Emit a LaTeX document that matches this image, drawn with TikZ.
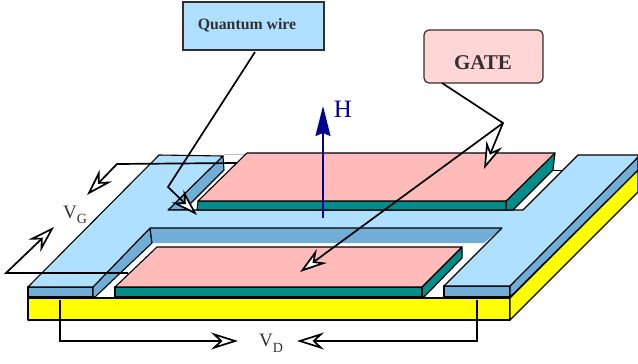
\documentclass[tikz,border=0pt]{standalone}
\usepackage{fontspec}
\setmainfont{Liberation Serif}
\usetikzlibrary{arrows.meta}
\definecolor{ltblue}{RGB}{176,224,255}
\definecolor{midblue}{RGB}{112,174,216}
\definecolor{tealc}{RGB}{0,140,136}
\definecolor{pinkc}{RGB}{255,186,186}
\definecolor{boxpink}{RGB}{255,214,214}
\definecolor{navyc}{RGB}{0,0,145}
\definecolor{inkc}{RGB}{48,48,48}
\definecolor{yellowc}{rgb}{1,1,0}
\tikzset{
  face/.style={draw=black,line width=1.1pt,line join=round},
  wire/.style={draw=black,line width=1.7pt,line join=miter},
  hollow/.style={wire,-{Stealth[length=27pt,width=17pt,inset=9pt,fill=white,line width=1.7pt]}},
  labelbox/.style={draw=inkc,line width=1.2pt,inner sep=0pt,text=inkc,font=\bfseries},
  vlabel/.style={inner sep=0pt,text=inkc,font=\fontsize{19}{19}\selectfont}
}
\begin{document}
\begin{tikzpicture}[x=1pt,y=-1pt]
\useasboundingbox (0,0) rectangle (638,364);
% substrate
\fill[yellowc,face] (28,298) -- (510,298) -- (510,320) -- (28,320) -- cycle;
\fill[yellowc,face] (510,298) -- (638,170) -- (638,192) -- (510,320) -- cycle;
% dark sides of the conducting layer
\fill[midblue,face] (28,287) -- (93,287) -- (93,297) -- (28,297) -- cycle;
\fill[midblue,face] (93,287) -- (150,228) -- (152,243) -- (95,297) -- (93,297) -- cycle;
\fill[midblue,draw=none] (150,228) -- (502,228) -- (484,243) -- (152,243) -- cycle;
\draw[face] (152,243) -- (150,228);
\fill[midblue,face] (444,286) -- (510,286) -- (510,297) -- (444,297) -- cycle;
\fill[midblue,face] (510,286) -- (638,157) -- (638,170) -- (510,297) -- cycle;
\fill[midblue,face] (223,156) -- (224,170) -- (184,210) -- (168,210) -- cycle;
% top of the conducting layer
\fill[ltblue,face] (28,287) -- (159,155) -- (223,156) -- (168,210) -- (523,210)
  -- (578,155) -- (638,155) -- (638,157) -- (510,286) -- (444,286) -- (502,228)
  -- (150,228) -- (93,287) -- cycle;
\draw[black!25,line width=0.6pt] (224,154) -- (245,154);
\draw[face,line width=0.7pt] (552,170) -- (562,170);
% upper gate
\fill[tealc,face] (506,201) -- (555,153) -- (553,170) -- (513,210) -- (506,210) -- cycle;
\fill[tealc,face] (198,201) -- (506,201) -- (506,210) -- (197,210) -- cycle;
\fill[pinkc,face] (247,153) -- (555,153) -- (506,201) -- (198,201) -- cycle;
% lower gate
\fill[tealc,face] (422,287) -- (462,247) -- (462,258) -- (424,297) -- (422,297) -- cycle;
\fill[tealc,face] (115,287) -- (422,287) -- (422,297) -- (115,297) -- cycle;
\fill[pinkc,face] (157,247) -- (462,247) -- (422,287) -- (115,287) -- cycle;
% labels
\node[labelbox,fill=ltblue,minimum width=141pt,minimum height=48pt] (qw) at (253.5,26) {};
\node[inner sep=0pt,text=inkc,font=\bfseries\fontsize{15.8}{15.8}\selectfont] (qwt) at (247,25) {Quantum wire};
\node[labelbox,fill=boxpink,rounded corners=5pt,minimum width=119pt,minimum height=53pt] (gate) at (483.5,56.5) {};
\node[inner sep=0pt,text=inkc,font=\bfseries\fontsize{21}{21}\selectfont] (gatet) at (483,63) {GATE};
\node[inner sep=0pt,text=navyc,font=\fontsize{25}{25}\selectfont] (hl) at (343,109) {H};
\node[vlabel] (vg) at (75,215) {V\raisebox{-5pt}{\fontsize{14}{14}\selectfont G}};
\node[vlabel] (vd) at (271,343) {V\raisebox{-6pt}{\fontsize{14}{14}\selectfont D}};
% field arrow
\coordinate (hbase) at (323,218);
\coordinate (htip) at (323,106);
\draw[navyc,line width=1.7pt,-{Stealth[length=30pt,width=15pt,inset=3pt]}] (hbase) -- (htip);
% callouts
\coordinate (qa) at (255,52);
\coordinate (qb) at (168,187);
\coordinate (qc) at (197,215);
\draw[hollow] (qa) -- (qb) -- (qc);
\coordinate (ga) at (442,83);
\coordinate (gb) at (503,123);
\coordinate (gc) at (484,169);
\coordinate (gd) at (300,272);
\draw[hollow] (ga) -- (gb) -- (gc);
\draw[hollow] (gb) -- (gd);
% voltage leads
\coordinate (g1) at (237,163);
\coordinate (g2) at (117,164);
\coordinate (g3) at (87,195);
\coordinate (g4) at (128,273);
\coordinate (g5) at (6,273);
\coordinate (g6) at (54,227);
\draw[hollow] (g1) -- (g2) -- (g3);
\draw[hollow] (g4) -- (g5) -- (g6);
\coordinate (d1) at (60,300);
\coordinate (d2) at (60,341);
\coordinate (d3) at (238,341);
\coordinate (d4) at (477,300);
\coordinate (d5) at (477,341);
\coordinate (d6) at (297,341);
\draw[hollow] (d1) -- (d2) -- (d3);
\draw[hollow] (d4) -- (d5) -- (d6);
\end{tikzpicture}
\end{document}
